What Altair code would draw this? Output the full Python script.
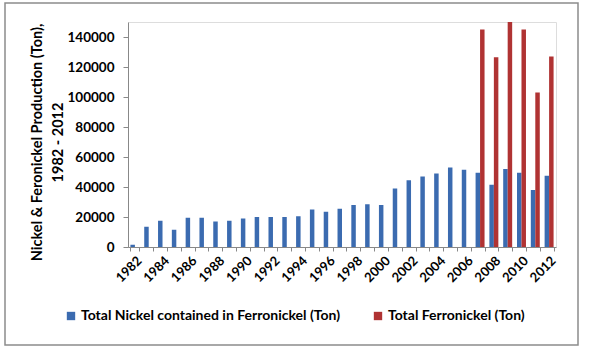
import altair as alt
import pandas as pd

years = list(range(1982, 2013))
nickel = [1500, 13500, 17500, 11500, 19500, 19500, 17000, 17500, 19000, 20000,
          20000, 20000, 20500, 25000, 23500, 25500, 28000, 28500, 28000, 39000,
          44500, 47000, 49000, 53000, 51500, 49500, 41500, 52000, 49500, 38000, 47500]
ferro_years = [2007, 2008, 2009, 2010, 2011, 2012]
ferro = [145000, 126500, 150000, 145000, 103000, 127000]

s1 = "Total Nickel contained in Ferronickel (Ton)"
s2 = "Total Ferronickel (Ton)"

rows = [{"year": y, "series": s1, "value": v} for y, v in zip(years, nickel)]
rows += [{"year": y, "series": s2, "value": v} for y, v in zip(ferro_years, ferro)]
df = pd.DataFrame(rows)

FONT = "Lato"

bars = alt.Chart(df).mark_bar().encode(
    x=alt.X("year:O", scale=alt.Scale(paddingInner=0.35, paddingOuter=0.175),
            axis=alt.Axis(title=None, labelAngle=-45, labelExpr="datum.value % 2 == 0 ? datum.label : ''",
                          labelOverlap=False, tickBand="extent", tickSize=4,
                          labelFont=FONT, labelFontWeight="bold", labelFontSize=13,
                          labelColor="black", domainColor="#888888", tickColor="#888888",
                          labelPadding=3)),
    xOffset=alt.XOffset("series:N", scale=alt.Scale(domain=[s1, s2], paddingInner=0, paddingOuter=0)),
    y=alt.Y("value:Q", scale=alt.Scale(domain=[0, 150000], nice=False),
            axis=alt.Axis(values=list(range(0, 140001, 20000)), format="d", grid=False,
                          title=["Nickel & Feronickel Production (Ton),", "1982 - 2012"],
                          titleFont=FONT, titleFontWeight="bold", titleFontSize=14.5,
                          titleColor="black", titleLineHeight=21, titleY=120,
                          labelFont=FONT, labelFontWeight="bold", labelFontSize=13.5,
                          labelColor="black", domainColor="#888888", tickColor="#888888",
                          tickSize=5, labelPadding=9, titlePadding=2)),
    color=alt.Color("series:N", scale=alt.Scale(domain=[s1, s2], range=["#3B6BB0", "#B03333"]),
                    legend=alt.Legend(title=None, orient="none", direction="horizontal",
                                      legendX=-64, legendY=287, symbolType="square",
                                      symbolSize=70, columnPadding=30, labelLimit=0,
                                      labelFont=FONT, labelFontWeight="bold", labelFontSize=14,
                                      labelColor="black", labelOffset=3)),
)

frame = alt.Chart(pd.DataFrame({"a": [0]})).mark_rect(fill=None, stroke="#8c8c8c", strokeWidth=1.5).encode(
    x=alt.value(-123), x2=alt.value(450), y=alt.value(-19), y2=alt.value(323)
)

chart = alt.layer(frame, bars).properties(
    width=428, height=225,
    autosize=alt.AutoSizeParams(type="none"),
    padding={"left": 128, "top": 22, "right": 33, "bottom": 107},
).configure_view(stroke=None).configure(background="white")

chart.save("out.html", embed_options={"renderer": "svg", "actions": False})
